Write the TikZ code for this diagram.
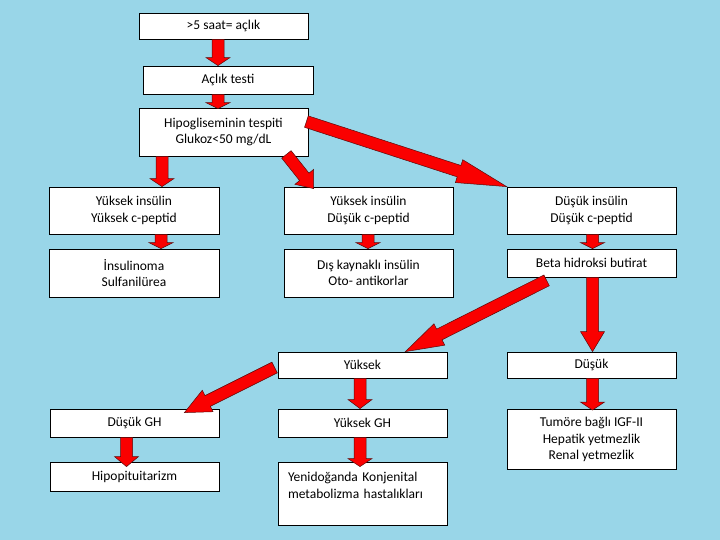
\documentclass[tikz,border=0pt]{standalone}
\usepackage{fontspec}
\setmainfont{Carlito}
\usetikzlibrary{calc}
\definecolor{bgblue}{RGB}{153,214,232}
\definecolor{arrred}{RGB}{250,0,0}
\definecolor{arredge}{RGB}{90,10,10}
\newcommand\blockarr[3]{%
  \coordinate (hb) at ($(#2)!#3!(#1)$);
  \draw[arrowsty] ($(#1)!6pt!90:(#2)$) -- ($(hb)!6pt!90:(#2)$) -- ($(hb)!12pt!90:(#2)$) -- (#2)
    -- ($(hb)!12pt!-90:(#2)$) -- ($(hb)!6pt!-90:(#2)$) -- ($(#1)!6pt!-90:(#2)$) -- cycle;}
\begin{document}
\begin{tikzpicture}[x=1pt,y=-1pt,
  box/.style={draw=black, fill=white, line width=0.8pt, inner sep=2pt, align=center,
    font=\fontsize{13.5}{16.5}\selectfont, text=black, minimum width=169pt},
  arrowsty/.style={fill=arrred, draw=arredge, line width=0.5pt, line join=miter}]
\fill[bgblue] (0,0) rectangle (720,540);
\useasboundingbox (0,0) rectangle (720,540);
% boxes
\node[box, minimum height=26pt] (b1) at (223.5,26) {>5 saat= açlık};
\node[box, minimum height=28pt, minimum width=170pt] (b2) at (228,80) {Açlık testi};
\node[box, minimum height=48pt] (b3) at (223.5,132) {Hipogliseminin tespiti\\Glukoz<50 mg/dL};
\node[box, minimum height=47pt, minimum width=170pt] (r2a) at (134,210.5) {Yüksek insülin\\Yüksek c-peptid};
\node[box, minimum height=47pt] (r2b) at (368.5,210.5) {Yüksek insülin\\Düşük c-peptid};
\node[box, minimum height=47pt] (r2c) at (591.5,210.5) {Düşük insülin\\Düşük c-peptid};
\node[box, minimum height=48pt, minimum width=170pt] (r3a) at (134,273) {İnsulinoma\\Sulfanilürea};
\node[box, minimum height=48pt] (r3b) at (368.5,273) {Dış kaynaklı insülin\\Oto- antikorlar};
\node[box, minimum height=28pt] (r3c) at (591.5,263) {Beta hidroksi butirat};
\node[box, minimum height=26pt] (r4a) at (362.5,365) {Yüksek};
\node[box, minimum height=26pt] (r4b) at (591.5,365) {Düşük};
\node[box, minimum height=28pt] (r5a) at (134.5,423) {Düşük GH};
\node[box, minimum height=28pt] (r5b) at (362.5,423) {Yüksek GH};
\node[box, minimum height=60pt] (r5c) at (591.5,439.5) {Tumöre bağlı IGF-II\\Hepatik yetmezlik\\Renal yetmezlik};
\node[box, minimum height=29pt] (r6a) at (134.5,476.5) {Hipopituitarizm};
\node[box, minimum height=63pt, text width=149pt, inner xsep=10pt, align=left] (r6b) at (362.5,493.5) {Yenidoğanda Konjenital\\metabolizma hastalıkları\\\mbox{}};
% arrow end points
\coordinate (a1s) at ($(b1.south)+(-5.5,0)$);   \coordinate (a1e) at ($(b2.north)+(-10,0)$);
\coordinate (a2s) at ($(b2.south)+(-10,0)$);    \coordinate (a2e) at ($(b3.north)+(-5.5,1)$);
\coordinate (a3s) at ($(b3.south)+(-61.5,0)$);  \coordinate (a3e) at ($(r2a.north)+(28,0)$);
\coordinate (a4s) at ($(b3.south east)+(-22,-2)$); \coordinate (a4e) at ($(r2b.north west)+(30,2)$);
\coordinate (a5s) at ($(b3.north east)+(-2,14)$);  \coordinate (a5e) at ($(r2c.north west)+(0,0)$);
\coordinate (a6s) at ($(r2a.south)+(27,0)$);    \coordinate (a6e) at ($(r3a.north)+(27,0)$);
\coordinate (a7s) at ($(r2b.south)+(-0.5,0)$);  \coordinate (a7e) at ($(r3b.north)+(-0.5,0)$);
\coordinate (a8s) at ($(r2c.south)+(1,0)$);     \coordinate (a8e) at ($(r3c.north)+(1,0)$);
\coordinate (a9s) at ($(r3c.south)+(1,0)$);     \coordinate (a9e) at ($(r4b.north)+(1,0)$);
\coordinate (a10s) at ($(r3c.south west)+(40,3)$); \coordinate (a10e) at ($(r4a.north east)+(-42,0)$);
\coordinate (a11s) at ($(r4a.south)+(-2.5,0)$); \coordinate (a11e) at ($(r5b.north)+(-2.5,0)$);
\coordinate (a12s) at ($(r4a.west)+(-3,2.5)$);  \coordinate (a12e) at ($(r5a.north east)+(-35,4)$);
\coordinate (a13s) at ($(r4b.south)+(1,0)$);    \coordinate (a13e) at ($(r5c.north)+(1,1)$);
\coordinate (a14s) at ($(r5a.south)+(-8,0)$);   \coordinate (a14e) at ($(r6a.north)+(-8,5)$);
\coordinate (a15s) at ($(r5b.south)+(-2.5,0)$); \coordinate (a15e) at ($(r6b.north)+(-2.5,5)$);
% arrows
\blockarr{a1s}{a1e}{8pt}
\blockarr{a2s}{a2e}{6pt}
\blockarr{a3s}{a3e}{8pt}
\blockarr{a4s}{a4e}{15pt}
\blockarr{a5s}{a5e}{50pt}
\blockarr{a6s}{a6e}{6pt}
\blockarr{a7s}{a7e}{6pt}
\blockarr{a8s}{a8e}{6pt}
\blockarr{a9s}{a9e}{20pt}
\blockarr{a10s}{a10e}{38pt}
\blockarr{a11s}{a11e}{9pt}
\blockarr{a12s}{a12e}{26pt}
\blockarr{a13s}{a13e}{8pt}
\blockarr{a14s}{a14e}{10pt}
\blockarr{a15s}{a15e}{8pt}
\end{tikzpicture}
\end{document}
